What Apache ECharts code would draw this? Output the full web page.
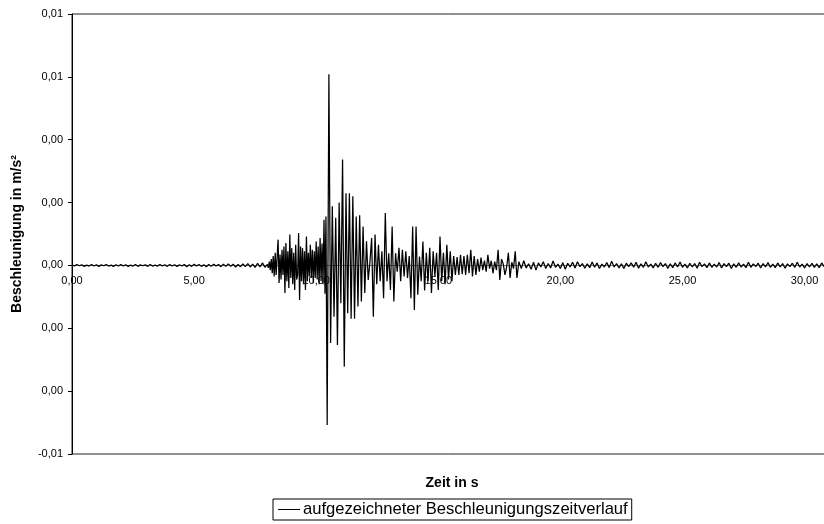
<!doctype html>
<html lang="de">
<head>
    <meta charset="UTF-8">
    <title>Beschleunigungszeitverlauf</title>
    <script src="https://cdn.jsdelivr.net/npm/echarts@6/dist/echarts.min.js"></script>
    <style>
        html, body { margin: 0; padding: 0; background: #fff; }
        #chart { width: 824px; height: 524px; }
    </style>
</head>
<body>
<div id="chart"></div>
<script>
    // Werte in 1e-3 m/s²
    const UNIT = 0.001
    const seriesName = 'aufgezeichneter Beschleunigungszeitverlauf'

    // Ruhephase 0 .. 7,9 s, Schritt 0,1 s
    const preStart = 0, preStep = 0.1
    const preValues = [0.02, -0.02, 0.03, -0.01, 0.02, -0.03, 0.01, -0.02, 0.03, -0.02,
        0.02, -0.03, 0.02, -0.01, 0.03, -0.02, 0.01, -0.03, 0.02, -0.02,
        0.03, -0.02, 0.02, -0.03, 0.01, -0.02, 0.03, -0.03, 0.02, -0.01,
        0.02, -0.03, 0.03, -0.02, 0.01, -0.02, 0.03, -0.02, 0.02, -0.03,
        0.03, -0.02, 0.02, -0.03, 0.02, -0.02, 0.03, -0.04, 0.02, -0.03,
        0.04, -0.02, 0.03, -0.03, 0.02, -0.04, 0.03, -0.03, 0.04, -0.02,
        0.03, -0.04, 0.04, -0.03, 0.05, -0.03, 0.04, -0.05, 0.03, -0.04,
        0.05, -0.04, 0.06, -0.05, 0.04, -0.06, 0.07, -0.05, 0.08, -0.06]

    // Einsatz 8,0 .. 10,4 s, Schritt 0,04 s
    const onsetStart = 8.0, onsetStep = 0.04
    const onsetValues = [0.03, -0.08, 0.12, -0.15, 0.2, -0.25, 0.3, -0.35, 0.4, -0.3,
        -0.3, 0.82, -0.56, 0.35, -0.45, 0.5, -0.3, 0.6, -0.88, 0.71,
        -0.5, 0.45, -0.72, 0.98, -0.4, 0.55, -0.6, 0.4, -0.78, 0.66,
        -0.45, -0.3, 1.03, -1.1, 0.6, -0.5, 0.55, -0.6, 0.45, -0.78,
        0.92, -0.5, 0.4, -0.35, 0.66, -0.4, 0.5, -0.56, 0.45, -0.4,
        0.76, -0.45, 0.6, -0.6, 0.87, -0.5, 0.7, -0.6, 1.45, -0.9,
        1.56]

    // Starkbebenphase ab 10,45 s, Schritt 0,07 s
    const strongStart = 10.45, strongStep = 0.07
    const strongValues = [-5.08, 6.08, -2.47, 1.88, -1.63,
        1.52, -2.53, 2.0, -1.2, 3.37, -3.22, 2.3, -1.52, 2.3, -1.7,
        2.2, -1.7, 1.56, -1.31, 1.6, -1.15, 1.24, -0.88, 0.77, -0.46,
        0.1, 0.87, -1.63, 0.98, -0.6, 0.66, -0.5, 0.45, -1.04, 1.67,
        -0.5, 0.39, -0.78, 1.24, -1.15, 0.39, -0.2, 0.56, -0.5, 0.5,
        -0.35, 0.45, -0.4, 0.3, -1.04, 1.24, -1.42, 1.24, -0.93, 0.28,
        -0.5, 0.76, -0.8, 0.4, -0.5, 0.56, -0.88, 0.45, -0.35, 0.4,
        -0.78, 0.92, -0.5, 0.4, -0.6, 0.66, -0.45, 0.45, -0.5, 0.3,
        -0.3, 0.27, -0.3, 0.34, -0.28, 0.3, -0.3, 0.34, -0.25, 0.5,
        -0.35, 0.3, -0.3, 0.2, -0.2, 0.25, -0.15, 0.15, -0.2, 0.34,
        -0.1, 0.15, -0.25, 0.12, -0.15, 0.5, -0.46, 0.2, 0.05, -0.3,
        -0.05, 0.4, -0.4, 0.1, -0.1, 0.45, -0.4]

    // Ausklingphase ab 18,3 s, Schritt 0,1 s
    const codaStart = 18.3, codaStep = 0.1
    const codaValues = [0.12, -0.1, 0.15, -0.08, 0.05, -0.12, 0.1, -0.15, 0.08, -0.05,
        0.12, -0.1, 0.06, -0.08, 0.14, -0.06, 0.04, -0.1, 0.09, -0.12,
        0.07, -0.05, 0.1, -0.08, 0.12, -0.04, 0.06, -0.09, 0.05, -0.07,
        0.11, -0.06, 0.08, -0.1, 0.04, -0.05, 0.09, -0.07, 0.13, -0.05,
        0.06, -0.08, 0.05, -0.1, 0.07, -0.04, 0.08, -0.06, 0.1, -0.09,
        0.05, -0.06, 0.12, -0.05, 0.04, -0.08, 0.07, -0.06, 0.09, -0.04,
        0.06, -0.1, 0.05, -0.07, 0.08, -0.05, 0.11, -0.06, 0.04, -0.08,
        0.07, -0.05, 0.06, -0.09, 0.1, -0.04, 0.05, -0.07, 0.08, -0.06,
        0.04, -0.05, 0.09, -0.08, 0.06, -0.04, 0.07, -0.1, 0.05, -0.06,
        0.08, -0.05, 0.04, -0.07, 0.1, -0.06, 0.05, -0.04, 0.07, -0.08,
        0.06, -0.05, 0.09, -0.06, 0.04, -0.07, 0.08, -0.05, 0.06, -0.09,
        0.05, -0.04, 0.07, -0.06, 0.1, -0.05, 0.04, -0.08, 0.06, -0.05,
        0.07, -0.06, 0.05, -0.07, 0.08, -0.04, 0.06, -0.05]

    const yMin = -0.006, yMax = 0.008, yStep = 0.002
    const xMin = 0, xMax = 31, xStep = 5

    const fontFamily = '"Liberation Sans", Arial, sans-serif'
    const gridTop = 14, gridBottom = 70, gridLeft = 72, gridWidth = 757
    const plotHeight = 524 - gridTop - gridBottom

    function segment(start, step, values) {
        return values.map((v, i) => [+(start + i * step).toFixed(3), v * UNIT])
    }
    const data = [].concat(
        segment(preStart, preStep, preValues),
        segment(onsetStart, onsetStep, onsetValues),
        segment(strongStart, strongStep, strongValues),
        segment(codaStart, codaStep, codaValues)
    )

    function fmt(v) {
        return (Math.round(v * 100) / 100).toFixed(2).replace('.', ',')
    }

    const chart = echarts.init(document.getElementById('chart'))
    const option = {
        animation: false,
        backgroundColor: '#fff',
        textStyle: {fontFamily: fontFamily},
        grid: {
            left: gridLeft, width: gridWidth, top: gridTop, bottom: gridBottom,
            outerBoundsMode: 'none',
            show: true, borderColor: '#222', borderWidth: 1
        },
        legend: {
            data: [{name: seriesName, icon: 'rect'}],
            left: 273, top: 499,
            padding: [2, 4, 2, 5],
            itemWidth: 22, itemHeight: 1, itemGap: 4,
            itemStyle: {color: '#000'},
            borderColor: '#000', borderWidth: 1, borderRadius: 0,
            textStyle: {fontSize: 16.6, color: '#000', fontFamily: fontFamily, lineHeight: 17, padding: [0, 0, 0, -2]}
        },
        graphic: [{
            type: 'text', x: 452, y: 483,
            style: {
                text: 'Zeit in s', textAlign: 'center', textVerticalAlign: 'middle',
                font: 'bold 14px ' + fontFamily, fill: '#000'
            }
        }],
        xAxis: {
            type: 'value', min: xMin, max: xMax, interval: xStep,
            // Achse bei y = 0 wie im Original
            offset: -(0 - yMin) / (yMax - yMin) * plotHeight,
            axisLine: {onZero: false, lineStyle: {color: '#808080', width: 1}},
            axisTick: {show: false},
            splitLine: {show: false},
            axisLabel: {
                showMaxLabel: false, margin: 10,
                fontSize: 11, color: '#000', fontFamily: fontFamily,
                formatter: fmt
            }
        },
        yAxis: {
            type: 'value', min: yMin, max: yMax, interval: yStep,
            name: 'Beschleunigung in m/s²', nameLocation: 'middle', nameGap: 48, nameRotate: 90,
            nameTextStyle: {fontSize: 14, fontWeight: 'bold', color: '#000', fontFamily: fontFamily},
            axisLine: {show: true, lineStyle: {color: '#000', width: 1}},
            axisTick: {show: true, inside: false, length: 4, lineStyle: {color: '#000'}},
            splitLine: {show: false},
            axisLabel: {margin: 9, fontSize: 11, color: '#000', fontFamily: fontFamily, formatter: fmt}
        },
        series: [{
            name: seriesName,
            type: 'line',
            data: data,
            symbol: 'none',
            sampling: null,
            clip: true,
            z: 5,
            lineStyle: {color: '#000', width: 1.25},
            itemStyle: {color: '#000'}
        }]
    }
    chart.setOption(option)
</script>
</body>
</html>
